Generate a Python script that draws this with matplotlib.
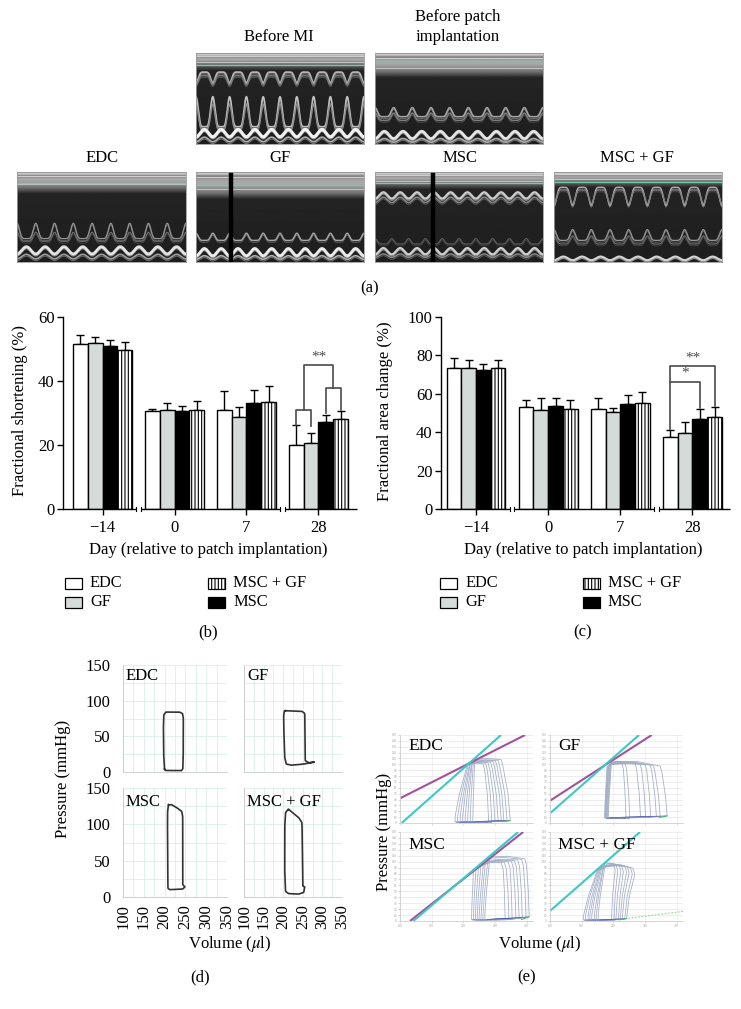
import numpy as np
import matplotlib
matplotlib.use("Agg")
import matplotlib.pyplot as plt
from matplotlib.patches import Rectangle

plt.rcParams["font.family"] = ["Liberation Serif", "DejaVu Serif"]
plt.rcParams["mathtext.fontset"] = "stix"
plt.rcParams["hatch.linewidth"] = 0.8

# ------------------------------------------------------------------ data
groups = ["EDC", "GF", "MSC", "MSC + GF"]
days = ["\u221214", "0", "7", "28"]

# (b) fractional shortening (%), mean and upper error
fs_edc = [51.7, 30.5, 30.9, 19.9]
fs_gf = [51.9, 30.9, 28.6, 20.5]
fs_msc = [51.0, 30.5, 33.1, 27.3]
fs_mscgf = [49.8, 31.0, 33.4, 28.1]
fs_edc_err = [2.6, 0.9, 6.1, 6.3]
fs_gf_err = [1.7, 2.2, 3.2, 3.4]
fs_msc_err = [1.7, 1.8, 4.2, 2.0]
fs_mscgf_err = [2.4, 2.6, 5.0, 2.5]

# (c) fractional area change (%)
fac_edc = [73.4, 53.3, 51.9, 37.4]
fac_gf = [73.3, 51.7, 50.7, 39.8]
fac_msc = [72.6, 53.8, 54.7, 46.7]
fac_mscgf = [73.3, 51.9, 55.3, 47.8]
fac_edc_err = [5.2, 3.7, 5.7, 4.0]
fac_gf_err = [4.3, 5.9, 2.1, 5.4]
fac_msc_err = [3.1, 3.8, 4.6, 5.2]
fac_mscgf_err = [4.3, 5.1, 5.6, 5.1]

# significance brackets (heights in data units)
fs_br_low = [30.8, 37.8]          # EDC-GF and MSC-(MSC+GF) brackets
fs_br_top = 44.9
fs_br_legs = [26.2, 26.0, 30.0, 30.8]
fac_br = [66.4, 74.3]             # '*' and '**'
fac_br_legs = [41.9, 52.8, 53.4]

# (a) echo panels
echo_titles = ["Before MI", "Before patch\nimplantation", "EDC", "GF", "MSC", "MSC + GF"]
echo_beats = [10, 9, 9, 10, 10, 9]

# (d) single pressure-volume loops (volume in ul, pressure in mmHg)
d_edc_v = [200, 198, 197, 198, 203, 236, 243, 245, 245, 244, 241, 226, 204]
d_edc_p = [3, 20, 60, 80, 84, 84, 82, 76, 30, 5, 2, 2, 2]
d_gf_v = [203, 248, 255, 256, 256, 265, 280, 262, 250, 222, 208, 204, 202, 201]
d_gf_p = [86, 85, 82, 40, 16, 13, 14, 12, 11, 9.5, 11, 20, 50, 78]
d_msc_v = [209, 217, 229, 241, 243.5, 243.5, 249, 244, 213, 208, 207, 207]
d_msc_p = [127, 127, 123, 118, 111, 17, 14, 11, 10, 12, 79, 116]
d_mscgf_v = [213, 240, 248, 250, 255, 252.5, 240, 214, 206, 204, 204, 206]
d_mscgf_p = [121, 109, 102, 15, 14, 6.4, 4, 4.6, 7.8, 33, 97, 116]

# (e) loop families during occlusion: top-left (ES) volume & pressure,
# bottom-left volume, top-right volume & pressure, bottom-right volume & EDP
e_edc = dict(vt=[206, 208, 210, 211, 213, 214, 216, 218],
             pe=[98, 100, 101, 102, 104, 105, 107, 109],
             vb=[187, 191, 195, 199, 203, 207, 211, 215],
             vrt=[234, 238, 242, 246, 250, 254, 258, 263],
             prt=[101, 102, 103, 104, 105, 106, 107, 108],
             vrb=[240, 245, 250, 255, 260, 264, 269, 274],
             pbot=[2, 2, 2, 2, 2, 2, 2, 2],
             pedp=[2, 2, 3, 3, 3, 4, 4, 4])
e_gf = dict(vt=[190, 191, 192, 193, 194, 195, 196, 197],
            pe=[96, 97, 98, 99, 100, 101, 103, 104],
            vb=[186, 187, 188, 188, 189, 190, 191, 192],
            vrt=[216, 221, 237, 245, 253, 261, 266, 277],
            prt=[104, 104, 103, 102, 100, 99, 98, 97],
            vrb=[220, 226, 243, 251, 259, 268, 274, 285],
            pbot=[9, 9, 9, 9, 9, 9, 9, 9],
            pedp=[9, 9, 10, 10, 10, 11, 11, 12])
e_msc = dict(vt=[216, 220, 224, 228, 232, 235, 239, 242],
             pe=[85, 89, 92, 96, 99, 102, 106, 108],
             vb=[213, 216, 219, 222, 225, 228, 231, 234],
             vrt=[263, 268, 274, 279, 284, 289, 295, 300],
             prt=[98, 99, 100, 101, 102, 103, 104, 105],
             vrb=[266, 272, 277, 283, 288, 293, 299, 304],
             pbot=[2, 2, 2, 2, 2, 2, 2, 2],
             pedp=[3, 3, 4, 4, 5, 5, 6, 7])
e_mscgf = dict(vt=[174, 176, 178, 180, 182, 184, 185, 187],
               pe=[83, 85, 86, 88, 90, 91, 93, 94],
               vb=[153, 156, 160, 163, 166, 170, 173, 176],
               vrt=[203, 207, 212, 216, 221, 225, 230, 234],
               prt=[97, 96, 95, 94, 93, 92, 90, 89],
               vrb=[197, 201, 204, 208, 211, 214, 218, 221],
               pbot=[1.5, 1.5, 1.5, 1.5, 1.5, 1.5, 1.5, 1.5],
               pedp=[2, 2, 2, 3, 3, 3, 3, 4])
# ESPVR lines (two end points each): cyan and magenta
e_cyan = {"EDC": ([102.7, 259.6], [0, 150]), "GF": ([100, 240.6], [16.5, 150]),
          "MSC": ([121, 286.5], [0, 150]), "MSC + GF": ([100, 242.2], [16.9, 150])}
e_mag = {"EDC": ([100, 297.5], [42, 150]), "GF": ([100, 260.6], [38, 150]),
         "MSC": ([115.8, 294.5], [0, 150]), "MSC + GF": None}
e_edpvr = {"MSC + GF": ([223.7, 310], [4.5, 16.2])}

# ------------------------------------------------------------------ figure
W, H = 741, 1009
fig = plt.figure(figsize=(W / 100, H / 100), dpi=100)


def ax_at(l, t, r, b):
    return fig.add_axes([l / W, 1 - b / H, (r - l) / W, (b - t) / H])


def ftext(x, y, s, **kw):
    fig.text(x / W, 1 - y / H, s, **kw)


# ------------------------------------------------------------------ (a)
echo_boxes = [(196, 53, 364, 144), (375, 53, 543, 144),
              (17, 172, 186, 262), (196, 172, 364, 262),
              (375, 172, 543, 262), (554, 172, 722, 262)]
echo_styles = [
    dict(top=0.12, green=0.13, bar=None,
         waves=[("vdown", 0.21, 0.12, "#b4b4b4", 1.3), ("vdown", 0.25, 0.1, "#7c7c7c", 1.0),
                ("spike", 0.81, 0.33, "#c0c0c0", 1.2), ("spike", 0.84, 0.28, "#8a8a8a", 1.0),
                ("sin", 0.88, 0.04, "#f2f2f2", 2.2), ("sin", 0.95, 0.025, "#b0b0b0", 1.2)]),
    dict(top=0.20, green=0.09, bar=None,
         waves=[("spike", 0.70, 0.10, "#a8a8a8", 1.1), ("spike", 0.74, 0.08, "#808080", 1.0),
                ("sin", 0.90, 0.04, "#e4e4e4", 2.0), ("sin", 0.96, 0.02, "#b0b0b0", 1.2)]),
    dict(top=0.17, green=0.12, bar=None,
         waves=[("spike", 0.74, 0.17, "#969696", 0.9), ("spike", 0.77, 0.10, "#707070", 0.8),
                ("sin", 0.87, 0.04, "#e4e4e4", 2.0), ("sin", 0.94, 0.025, "#a0a0a0", 1.2)]),
    dict(top=0.23, green=0.14, bar=0.21,
         waves=[("spike", 0.76, 0.08, "#a8a8a8", 1.0), ("sin", 0.89, 0.04, "#ececec", 2.0),
                ("sin", 0.95, 0.02, "#b0b0b0", 1.2)]),
    dict(top=0.12, green=0.12, bar=0.345,
         waves=[("sin", 0.26, 0.035, "#cccccc", 1.6), ("sin", 0.31, 0.03, "#909090", 1.0),
                ("spike", 0.80, 0.06, "#606060", 0.8), ("sin", 0.88, 0.035, "#d0d0d0", 1.6),
                ("sin", 0.93, 0.02, "#909090", 1.0)]),
    dict(top=0.10, green=0.11, bar=None,
         waves=[("vdown", 0.17, 0.20, "#b0b0b0", 1.0), ("vdown", 0.20, 0.15, "#808080", 0.9),
                ("spike", 0.76, 0.12, "#989898", 0.9), ("spike", 0.80, 0.09, "#707070", 0.8),
                ("sin", 0.96, 0.02, "#d4d4d4", 1.6)]),
]


def draw_echo(ax, st, beats):
    top = st["top"]
    depth = np.linspace(0, 1, 200)[:, None]
    prof = np.interp(depth, [0, 0.015, 0.04, top * 0.5, top, top + 0.07, 1.0],
                     [0.55, 0.85, 0.5, 0.7, 0.45, 0.14, 0.12])
    ax.imshow(np.repeat(prof, 4, axis=1), cmap="gray", vmin=0, vmax=1,
              extent=[0, 1, 1, 0], aspect="auto", interpolation="bilinear")
    t = np.linspace(0, 1, 800)
    c = np.cos(2 * np.pi * beats * t)
    for kind, base, amp, col, lw in st["waves"]:
        if kind == "sin":
            y = base + amp * c
        elif kind == "spike":
            y = base - amp * ((1 + c) / 2) ** 3
        else:
            y = base + amp * ((1 + c) / 2) ** 3
        ax.plot(t, y, color=col, lw=lw)
        ax.plot(t, y + 0.02, color=col, lw=lw * 0.6, alpha=0.6)
    for f, g in zip([0.25, 0.5, 0.8], ["#e0e0e0", "#a0a0a0", "#cfcfcf"]):
        ax.axhline(f * top, color=g, lw=0.8, alpha=0.8)
    if st["green"] is not None:
        ax.axhline(st["green"], color="#6fd0a8", lw=0.9)
    if st["bar"] is not None:
        ax.axvline(st["bar"], color="black", lw=3.2)
    ax.set_xlim(0, 1)
    ax.set_ylim(1, 0)
    ax.set_xticks([])
    ax.set_yticks([])
    for s in ax.spines.values():
        s.set_color("#9a9a9a")
        s.set_linewidth(0.6)


for box, st, nb in zip(echo_boxes, echo_styles, echo_beats):
    draw_echo(ax_at(*box), st, nb)

ftext(279, 37, echo_titles[0], ha="center", va="center", fontsize=12)
ftext(458, 27, echo_titles[1], ha="center", va="center", fontsize=12, linespacing=1.35)
for x, s in zip([102, 280, 460, 637], echo_titles[2:]):
    ftext(x, 158, s, ha="center", va="center", fontsize=12)
ftext(370, 288, "(a)", ha="center", va="center", fontsize=12)

# ------------------------------------------------------------------ (b), (c)
bw = 0.204
offs = [-1.5 * bw, -0.5 * bw, 0.5 * bw, 1.5 * bw]
face = ["white", "#d5dbd9", "black", "white"]
hatches = [None, None, None, "|||||"]
GRAY = "#4a4a4a"


def bar_panel(ax, means, errs, ymax, ystep, xlim):
    x = np.arange(4)
    for i in range(4):
        ax.errorbar(x + offs[i], means[i], yerr=[np.zeros(4), errs[i]], fmt="none",
                    ecolor="black", elinewidth=1, capsize=3.2, capthick=1, zorder=1)
        ax.bar(x + offs[i], means[i], width=bw, color=face[i], edgecolor="black",
               linewidth=1, hatch=hatches[i], zorder=2)
    ax.set_xlim(*xlim)
    ax.set_ylim(0, ymax)
    for s in ["top", "right", "bottom"]:
        ax.spines[s].set_visible(False)
    ax.spines["left"].set_linewidth(1)
    ax.set_yticks(np.arange(0, ymax + 1, ystep))
    ax.set_xticks(x)
    ax.set_xticklabels(days)
    ax.tick_params(direction="out", length=4, width=1, labelsize=12, pad=2)
    ax.tick_params(axis="x", pad=4)
    # broken x axis
    gap = 0.03
    segs = [(xlim[0], 0.5 - gap), (0.5 + gap, 2.5 - gap), (2.5 + gap, xlim[1])]
    for a, b in segs:
        ax.plot([a, b], [0, 0], color="black", lw=1, clip_on=False, solid_capstyle="butt")
    tick_h = ymax / 60 * 0.7
    for bx in [0.5 - gap, 0.5 + gap, 2.5 - gap, 2.5 + gap]:
        ax.plot([bx, bx], [-tick_h, tick_h], color="black", lw=0.8, clip_on=False)


axb = ax_at(63, 317, 357, 509)
bar_panel(axb, [fs_edc, fs_gf, fs_msc, fs_mscgf],
          [fs_edc_err, fs_gf_err, fs_msc_err, fs_mscgf_err], 60, 20, (-0.549, 3.535))
xb = [3 + o for o in offs]
m1 = (xb[0] + xb[1]) / 2
m2 = (xb[2] + xb[3]) / 2
axb.plot([xb[0], xb[0], xb[1], xb[1]], [fs_br_legs[0], fs_br_low[0], fs_br_low[0], fs_br_legs[1]],
         color=GRAY, lw=1.2)
axb.plot([xb[2], xb[2], xb[3], xb[3]], [fs_br_legs[2], fs_br_low[1], fs_br_low[1], fs_br_legs[3]],
         color=GRAY, lw=1.2)
axb.plot([m1, m1, m2, m2], [fs_br_low[0], fs_br_top, fs_br_top, fs_br_low[1]], color=GRAY, lw=1.2)
axb.text((m1 + m2) / 2, fs_br_top + 0.6, "**", ha="center", va="bottom", fontsize=11, color=GRAY)

axc = ax_at(441, 317, 730, 509)
bar_panel(axc, [fac_edc, fac_gf, fac_msc, fac_mscgf],
          [fac_edc_err, fac_gf_err, fac_msc_err, fac_mscgf_err], 100, 20, (-0.486, 3.52))
axc.plot([xb[0], xb[0], xb[2], xb[2]], [fac_br_legs[0], fac_br[0], fac_br[0], fac_br_legs[1]],
         color=GRAY, lw=1.2)
axc.plot([xb[0], xb[0], xb[3], xb[3]], [fac_br[0], fac_br[1], fac_br[1], fac_br_legs[2]],
         color=GRAY, lw=1.2)
axc.text((xb[0] + xb[2]) / 2, fac_br[0] + 0.8, "*", ha="center", va="bottom", fontsize=11, color=GRAY)
axc.text((xb[0] + xb[3]) / 2, fac_br[1] + 0.8, "**", ha="center", va="bottom", fontsize=11, color=GRAY)

ftext(20, 411, "Fractional shortening (%)", rotation=90, ha="center", va="center", fontsize=12)
ftext(385, 411, "Fractional area change (%)", rotation=90, ha="center", va="center", fontsize=12)
ftext(208, 550, "Day (relative to patch implantation)", ha="center", va="center", fontsize=12)
ftext(583, 550, "Day (relative to patch implantation)", ha="center", va="center", fontsize=12)


def legend_block(x1, x2):
    order = [(x1, 583, 0), (x1, 602, 1), (x2, 583, 3), (x2, 602, 2)]
    for lx, ly, gi in order:
        r = Rectangle((lx / W, 1 - (ly + 5.5) / H), 17 / W, 11 / H, transform=fig.transFigure,
                      facecolor=face[gi], edgecolor="black", lw=0.9, hatch=hatches[gi])
        fig.patches.append(r)
        ftext(lx + 25, ly, groups[gi], ha="left", va="center", fontsize=11.8)


legend_block(65, 208)
legend_block(440, 583)
ftext(208, 632, "(b)", ha="center", va="center", fontsize=12)
ftext(583, 632, "(c)", ha="center", va="center", fontsize=12)


# ------------------------------------------------------------------ helpers
def smooth_closed(xs, ys, sub=8, it=2):
    p = np.column_stack([xs, ys]).astype(float)
    q = np.roll(p, -1, axis=0)
    f = np.linspace(0, 1, sub, endpoint=False)[None, :, None]
    dense = (p[:, None, :] * (1 - f) + q[:, None, :] * f).reshape(-1, 2)
    for _ in range(it):
        n = np.roll(dense, -1, axis=0)
        new = np.empty((2 * len(dense), 2))
        new[0::2] = 0.75 * dense + 0.25 * n
        new[1::2] = 0.25 * dense + 0.75 * n
        dense = new
    dense = np.vstack([dense, dense[:1]])
    return dense[:, 0], dense[:, 1]


# ------------------------------------------------------------------ (d)
d_boxes = {"EDC": (123, 665, 227, 772), "GF": (244, 665, 342, 772),
           "MSC": (123, 788, 227, 897), "MSC + GF": (244, 788, 342, 897)}
d_data = {"EDC": (d_edc_v, d_edc_p), "GF": (d_gf_v, d_gf_p),
          "MSC": (d_msc_v, d_msc_p), "MSC + GF": (d_mscgf_v, d_mscgf_p)}
for k, g in enumerate(groups):
    ax = ax_at(*d_boxes[g])
    vx, vy = smooth_closed(*d_data[g], sub=6, it=2)
    ax.plot(vx, vy, color="#333333", lw=1.2)
    ax.set_xlim(100, 350)
    ax.set_ylim(0, 150)
    ax.set_xticks(np.arange(100, 351, 50))
    ax.set_yticks(np.arange(0, 151, 50))
    ax.set_xticks(np.arange(100, 351, 25), minor=True)
    ax.set_yticks(np.arange(0, 151, 25), minor=True)
    ax.grid(True, which="both", color="#d9efe8", lw=0.6)
    ax.set_axisbelow(True)
    for s in ["top", "right"]:
        ax.spines[s].set_visible(False)
    for s in ["left", "bottom"]:
        ax.spines[s].set_color("#c9c9c9")
        ax.spines[s].set_linewidth(0.6)
    ax.tick_params(which="both", length=0, labelsize=12)
    ax.tick_params(axis="y", pad=9)
    ax.tick_params(axis="x", pad=5, labelrotation=90)
    if k in (0, 1):
        ax.set_xticklabels([])
    if k in (1, 3):
        ax.set_yticklabels([])
    tx, ty = (126 if k in (0, 2) else 247), (676 if k < 2 else 802)
    ftext(tx, ty, g, ha="left", va="center", fontsize=12)

ftext(63, 779, "Pressure (mmHg)", rotation=90, ha="center", va="center", fontsize=12)
ftext(230, 944, "Volume ($\\mu$l)", ha="center", va="center", fontsize=12)
ftext(200, 977, "(d)", ha="center", va="center", fontsize=12)

# ------------------------------------------------------------------ (e)
e_boxes = {"EDC": (400, 735, 533, 823), "GF": (550, 735, 683, 823),
           "MSC": (400, 832, 533, 921), "MSC + GF": (550, 832, 683, 921)}
e_fam = {"EDC": e_edc, "GF": e_gf, "MSC": e_msc, "MSC + GF": e_mscgf}
for k, g in enumerate(groups):
    ax = ax_at(*e_boxes[g])
    ax.set_xlim(100, 310)
    ax.set_ylim(0, 150)
    ax.set_xticks(np.arange(100, 301, 50))
    ax.set_yticks(np.arange(0, 151, 10))
    ax.grid(True, axis="y", color="#e6e6e6", lw=0.5)
    ax.grid(True, axis="x", color="#ececec", lw=0.5)
    ax.set_axisbelow(True)
    for s in ["top", "right"]:
        ax.spines[s].set_visible(False)
    for s in ["left", "bottom"]:
        ax.spines[s].set_color("#cfcfcf")
        ax.spines[s].set_linewidth(0.6)
    ax.tick_params(length=1.2, width=0.4, color="#bbbbbb", labelsize=2.4,
                   labelcolor="#a0a0a0", pad=1)
    if k < 2:
        ax.set_xticklabels([])
    fam = e_fam[g]
    n = len(fam["vt"])
    for i in range(n):
        vt, pe, vb = fam["vt"][i], fam["pe"][i], fam["vb"][i]
        vrt, prt, vrb = fam["vrt"][i], fam["prt"][i], fam["vrb"][i]
        pb, pd = fam["pbot"][i], fam["pedp"][i]
        xs = [vb, (vb + vrb) / 2, vrb, vrb + 0.3 * (vrt - vrb), vrt, vrt - 3,
              (vrt + vt) / 2, vt, vb + 0.35 * (vt - vb), vb]
        ys = [pb, pb, pd, 0.45 * prt, 0.88 * prt, prt,
              max(prt, pe) + 1, pe, 0.5 * pe, 0.12 * pe]
        lx, ly = smooth_closed(xs, ys, sub=8, it=2)
        ax.plot(lx, ly, color="#9ea9c4", lw=0.6, alpha=0.9)
        ax.plot([vb + 2, vrb - 2], [pb, pd], color="#4657a8", lw=0.6, alpha=0.6)
    ax.plot([fam["vrb"][-1] - 12, fam["vrb"][-1]], [fam["pbot"][-1] + 0.5, fam["pedp"][-1]],
            color="#49b86a", lw=0.8)
    cx, cy = e_cyan[g]
    if e_mag[g] is not None:
        mx, my = e_mag[g]
        ax.plot(mx, my, color="#a2529c", lw=1.5, solid_capstyle="butt")
    ax.plot(cx, cy, color="#3cc9c4", lw=1.5, solid_capstyle="butt")
    if g in e_edpvr:
        gx, gy = e_edpvr[g]
        ax.plot(gx, gy, color="#8fd19a", lw=0.8, ls=(0, (1.5, 1.5)))
    tx, ty = (408 if k in (0, 2) else 558), (746 if k < 2 else 845)
    ftext(tx, ty, g, ha="left", va="center", fontsize=12.5)

ftext(384.5, 832, "Pressure (mmHg)", rotation=90, ha="center", va="center", fontsize=12)
ftext(540, 944, "Volume ($\\mu$l)", ha="center", va="center", fontsize=12)
ftext(527, 977, "(e)", ha="center", va="center", fontsize=12)

fig.savefig("out.png", dpi=100)
